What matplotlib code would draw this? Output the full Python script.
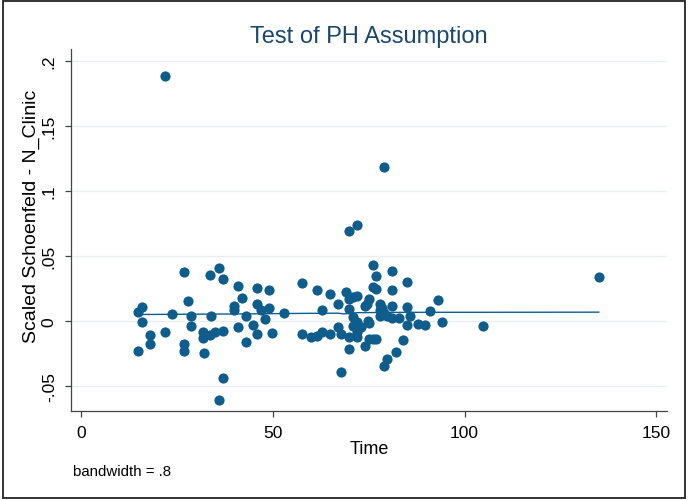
import numpy as np
import matplotlib
matplotlib.use('Agg')
import matplotlib.pyplot as plt
from matplotlib.patches import Rectangle

# Podatki prebrani s slike (cas, skalirani Schoenfeldov ostanek)
cas = [21.8, 14.8, 15.9, 15.9, 14.8, 17.9, 17.9, 21.8, 23.8, 26.8,
       27.9, 26.8, 26.8, 28.7, 28.7, 31.8, 31.8, 32.0, 33.7, 35.0,
       37.0, 33.9, 33.7, 35.9, 37.0, 37.0, 35.9, 40.9, 42.0, 39.9,
       39.9, 42.9, 40.9, 42.9, 44.8, 45.9, 45.9, 48.9, 45.9, 47.0,
       48.9, 47.9, 49.9, 52.8, 57.7, 57.7, 59.9, 61.6, 61.6, 62.9,
       62.9, 64.9, 64.9, 67.0, 67.0, 67.9, 67.9, 69.0, 69.9, 72.0,
       69.9, 69.9, 69.9, 69.9, 70.9, 72.0, 70.9, 72.0, 70.9, 72.0,
       72.0, 72.9, 74.0, 74.0, 75.0, 75.0, 77.0, 74.6, 75.0, 76.0,
       77.0, 76.0, 77.0, 78.0, 77.9, 77.9, 79.0, 79.8, 81.0, 81.0,
       79.0, 81.0, 81.0, 79.0, 79.9, 82.0, 82.9, 84.0, 84.9, 84.9,
       84.9, 85.9, 87.9, 89.8, 91.0, 93.1, 94.0, 104.9, 135.0, 74.8,
       78.6, 76.1]
ostanek = [0.188, 0.0065, 0.0103, -0.0008, -0.023, -0.011, -0.018, -0.0089, 0.0052, 0.0372,
           0.0154, -0.0179, -0.023, 0.0034, -0.0038, -0.0085, -0.0136, -0.0248, -0.011, -0.0089,
           -0.0077, 0.0034, 0.0352, 0.0408, 0.0321, -0.0441, -0.0608, 0.0265, 0.0177, 0.0115,
           0.0085, 0.0034, -0.0051, -0.0162, -0.0033, -0.0102, 0.0254, 0.0234, 0.0128, 0.0085,
           0.0095, 0.0013, -0.0095, 0.0059, 0.029, -0.0102, -0.0123, 0.0238, -0.0115, 0.0085,
           -0.0089, 0.0203, -0.0102, 0.0128, -0.0046, -0.0102, -0.0392, 0.0218, 0.0692, 0.0738,
           0.0167, 0.009, -0.0128, -0.0218, 0.018, 0.0192, 0.0026, -0.0008, -0.0043, -0.0085,
           -0.0128, -0.0051, -0.0192, 0.0115, -0.0018, -0.0141, -0.0141, 0.0128, 0.0167, 0.0257,
           0.0244, 0.0428, 0.0341, 0.0128, 0.0085, 0.0034, 0.0059, 0.0034, 0.0115, 0.0018,
           0.118, 0.0385, 0.0238, -0.0351, -0.0295, -0.0243, 0.0018, -0.0146, 0.0295, 0.0103,
           -0.0033, 0.0038, -0.0025, -0.0031, 0.0077, 0.0159, -0.0008, -0.0038, 0.0338, 0.0,
           0.0095, -0.014]

# lowess krivulja (bandwidth = .8), odcitana s slike
gladko_cas = [14.8, 40.0, 60.0, 67.0, 68.5, 72.0, 80.0, 94.0, 104.9, 135.0]
gladko_vrednost = [0.0048, 0.0052, 0.0057, 0.0058, 0.0053, 0.0062, 0.0064, 0.0065, 0.0065, 0.0066]

x_ticks = [0, 50, 100, 150]
y_ticks = [-0.05, 0, 0.05, 0.1, 0.15, 0.2]
y_tick_labels = ['-.05', '0', '.05', '.1', '.15', '.2']
bandwidth = '.8'

modra = '#0f5d8c'

plt.rcParams['font.family'] = ['Liberation Sans', 'DejaVu Sans']

fig = plt.figure(figsize=(6.88, 5.02), dpi=100)
ax = fig.add_axes([0.1028, 0.1783, 0.8667, 0.7221])

ax.scatter(cas, ostanek, s=54, color=modra, linewidths=0, zorder=3)
ax.plot(gladko_cas, gladko_vrednost, color=modra, lw=1.0, zorder=4)

ax.set_xlim(-2.7, 152.8)
ax.set_ylim(-0.0698, 0.209)
ax.set_xticks(x_ticks)
ax.set_yticks(y_ticks)
ax.set_yticklabels(y_tick_labels, rotation=90, va='center')
ax.tick_params(axis='both', labelsize=12.5, length=4.5, width=0.9, color='#444444', pad=5.5)
ax.grid(axis='y', color='#e6eff1', lw=1.0, zorder=0)
for s in ['top', 'right']:
    ax.spines[s].set_visible(False)
for s in ['left', 'bottom']:
    ax.spines[s].set_color('#444444')
    ax.spines[s].set_linewidth(0.9)

ax.set_xlabel('Time', fontsize=13)
ax.set_ylabel('Scaled Schoenfeld - N_Clinic', fontsize=14)
ax.xaxis.set_label_coords(0.5, -0.079)
ax.yaxis.set_label_coords(-0.051, 0.542)

fig.text(0.5355, 0.9143, 'Test of PH Assumption', fontsize=17, color='#1a476f',
         ha='center', va='baseline')
fig.text(0.106, 0.060, 'bandwidth = ' + bandwidth, fontsize=10.8,
         ha='left', va='center')

# okvir okoli celotne slike
fig.patches.append(Rectangle((0.0044, 0.006), 0.9912, 0.99, transform=fig.transFigure,
                             fill=False, edgecolor='#222222', lw=1.3))

fig.savefig('out.png', dpi=100)
